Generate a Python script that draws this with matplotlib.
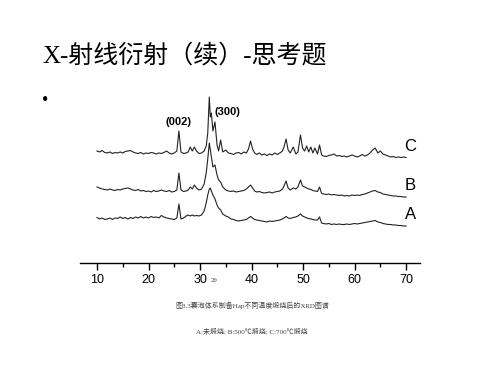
import matplotlib
matplotlib.use('Agg')
import matplotlib.pyplot as plt

# 2theta grid (deg) and intensities (a.u.)
two_theta = [10.0, 10.5, 11.0, 11.5, 12.0, 12.5, 13.0, 13.5, 14.0, 14.5,
             15.0, 15.5, 16.0, 16.5, 17.0, 17.5, 18.0, 18.5, 19.0, 19.5,
             20.0, 20.5, 21.0, 21.5, 22.0, 22.5, 23.0, 23.5, 24.0, 24.5,
             25.0, 25.5, 25.9, 26.3, 26.8, 27.3, 27.7, 28.1, 28.5, 28.9,
             29.3, 29.8, 30.3, 30.8, 31.2, 31.5, 31.8, 32.0, 32.2, 32.5,
             32.9, 33.3, 33.6, 34.0, 34.4, 35.0, 35.5, 36.0, 36.5, 37.0,
             37.5, 38.0, 38.5, 39.0, 39.4, 39.8, 40.2, 40.6, 41.0, 41.5,
             42.0, 42.5, 43.0, 43.5, 44.0, 44.5, 45.0, 45.5, 46.0, 46.3,
             46.7, 47.1, 47.5, 48.1, 48.6, 49.0, 49.5, 49.9, 50.3, 50.7,
             51.1, 51.5, 51.9, 52.3, 52.8, 53.2, 53.6, 54.0, 54.5, 55.0,
             55.5, 56.0, 56.5, 57.0, 57.5, 58.0, 58.5, 59.0, 59.5, 60.0,
             60.5, 61.0, 61.5, 62.0, 62.5, 63.0, 63.5, 64.0, 64.5, 65.0,
             65.5, 66.0, 66.5, 67.0, 67.5, 68.0, 68.5, 69.0, 69.5, 70.0]

int_c = [12, 11, 12.5, 10.5, 10, 11, 9.5, 10.5, 10, 11,
         10, 11.5, 12, 12.5, 11, 10, 9.5, 10.5, 9, 10,
         9.5, 10.5, 10, 9, 10, 9.5, 10.5, 12, 10, 9,
         10, 12, 32, 11, 9.5, 10, 11, 16, 12, 16,
         12, 9.5, 10, 12, 17, 30, 66, 46, 50, 32,
         41, 18, 12, 23, 11, 13, 10, 9.5, 8.5, 10,
         10.5, 9, 11, 10, 14, 22, 14, 10, 8.5, 10,
         8, 9, 7.5, 9, 8, 10, 8.5, 10, 12, 16,
         24, 13, 10, 16, 9, 11, 28, 15, 12, 17,
         11, 16, 10, 15, 9, 18, 8, 7, 6.5, 7.5,
         8, 9, 7, 7.5, 6.5, 7, 6, 7, 8, 7,
         6, 7, 8.5, 7, 8, 10, 13, 15, 10, 12,
         9, 8, 7, 6, 6.5, 5.5, 6, 5.5, 6, 5.5]

int_b = [11, 10, 9, 8.5, 8, 9, 8, 7.5, 8.5, 8,
         9, 9.5, 10, 9, 8, 7.5, 8.5, 7, 7.5, 6.5,
         7, 6, 7.5, 6.5, 7, 8, 7, 6.5, 7.5, 6,
         6.5, 8, 25, 8, 6.5, 7, 8, 11, 9, 13,
         10, 8, 9, 14, 25, 39, 55, 48, 41, 31,
         33, 23, 18, 16, 11, 8, 7, 6.5, 7, 6,
         6.5, 7, 7.5, 9, 11, 13, 10, 7, 6, 6.5,
         5.5, 5, 5.5, 6, 5, 6, 6.5, 7, 9, 12,
         17, 10, 8, 10, 9, 11, 18, 12, 11, 10,
         9, 8.5, 7.5, 7, 6.5, 11, 4.5, 4, 3.5, 4,
         3, 3.5, 3, 2.5, 3, 2, 2.5, 2, 3, 2.5,
         3, 2.5, 3.5, 4, 5, 6, 7, 7.5, 6, 5.5,
         4, 3.5, 3, 2.5, 2, 2, 1.5, 1.5, 1, 1]

int_a = [10.5, 9, 10, 8.5, 9, 10, 8.5, 10, 9.5, 11,
         9.5, 10.5, 9, 10.5, 9.5, 11, 10, 11.5, 10, 11,
         10, 11.5, 10.5, 11, 10, 12.5, 11, 10, 9.5, 9,
         8.5, 10, 24, 9, 10, 12, 13, 12, 13, 12,
         12.5, 12, 13, 17, 25, 33, 39, 40, 37, 33,
         29, 23, 20, 18, 14, 12, 11, 9, 8.5, 7.5,
         7, 7.5, 8, 8.5, 10, 11.5, 10, 8.5, 8, 7.5,
         7, 6.5, 6, 7, 6.5, 7, 7.5, 8, 9, 10,
         11.5, 10, 9.5, 10.5, 11, 12, 14, 12, 11, 10,
         9.5, 9, 8.5, 8, 8, 11, 5, 4.5, 4, 4.5,
         3.5, 4, 3.5, 4, 3.5, 3.5, 4, 3.5, 4, 4.5,
         4, 4.5, 5, 5.5, 6, 6.5, 7, 7.5, 6, 5.5,
         4.5, 4, 3.5, 3.5, 3, 3, 2.5, 2.5, 2, 2]

series_names = ['A', 'B', 'C']
offsets = [35, 65, 100]

title = 'X-射线衍射（续）-思考题'
caption1 = '图3.3囊泡体系制备Hap不同温度煅烧后的XRD图谱'
caption2 = 'A:未煅烧; B:500℃煅烧; C:700℃煅烧'

fig = plt.figure(figsize=(5, 3.75), dpi=100)

fig.text(0.084, 0.853, title, fontsize=18, va='center', ha='left',
         family=['Liberation Serif', 'Noto Sans CJK SC'])
fig.text(0.09, 0.733, '•', fontsize=13, va='center', ha='center',
         family='Liberation Serif')

ax = fig.add_axes([0.16, 0.2987, 0.68, 0.4613])
for name, off, vals in zip(series_names, offsets, [int_a, int_b, int_c]):
    ax.plot(two_theta, [v + off for v in vals], color='#222222', lw=0.8)
    ax.text(70.8, off + vals[-1] + 11, name, fontsize=12, ha='center',
            va='center', family='Liberation Sans')

ax.text(25.9, 141, '(002)', fontsize=8, fontweight='bold', ha='center',
        va='center', family='Liberation Sans')
ax.text(35.4, 151, '(300)', fontsize=8, fontweight='bold', ha='center',
        va='center', family='Liberation Sans')

ax.set_xlim(6.7, 72.7)
ax.set_ylim(0, 173)
for s in ['left', 'right', 'top']:
    ax.spines[s].set_visible(False)
ax.spines['bottom'].set_linewidth(1.0)
ax.set_yticks([])
ax.set_xticks([10, 20, 30, 40, 50, 60, 70])
ax.set_xticks([15, 25, 35, 45, 55, 65], minor=True)
ax.tick_params(axis='x', which='major', length=5, width=1, direction='out',
               labelsize=9, pad=3)
ax.tick_params(axis='x', which='minor', length=3, width=1, direction='out')
for lbl in ax.get_xticklabels():
    lbl.set_family('Liberation Sans')

fig.text(0.428, 0.253, '2θ', fontsize=4, ha='center', va='center',
         family='DejaVu Serif', color='#444444')

fig.text(0.504, 0.187, caption1, fontsize=5, ha='center', va='center',
         family=['Liberation Serif', 'Noto Sans CJK SC'], color='#444444')
fig.text(0.504, 0.117, caption2, fontsize=5, ha='center', va='center',
         family=['Liberation Serif', 'Noto Sans CJK SC'], color='#444444')

fig.savefig('out.png', dpi=100)
